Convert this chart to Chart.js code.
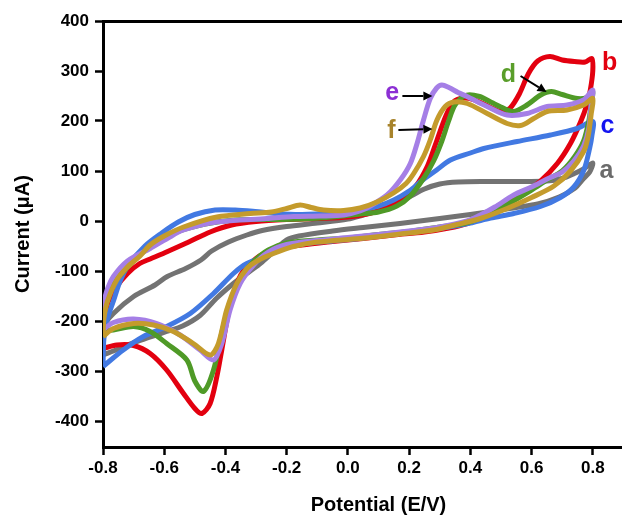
<!DOCTYPE html>
<html>
<head>
<meta charset="utf-8">
<script src="https://cdn.jsdelivr.net/npm/chart.js@4.4.1/dist/chart.umd.min.js"></script>
<style>
  html, body { margin: 0; padding: 0; background: #fff; overflow: hidden; }
  /* the figure is cropped on the right, like the original */
  #wrap { width: 654px; height: 517px; }
</style>
</head>
<body>
<div id="wrap"><canvas id="chart"></canvas></div>
<script>
// tick values
const xTicks = [-0.8, -0.6, -0.4, -0.2, 0.0, 0.2, 0.4, 0.6, 0.8];
const yTicks = [-400, -300, -200, -100, 0, 100, 200, 300, 400];

// curve a (grey): forward scan then reverse scan
const aE = [-0.8, -0.797, -0.766, -0.7, -0.63, -0.59, -0.53, -0.48, -0.445, -0.39, -0.33, -0.28, -0.2, -0.1, 0.0, 0.05, 0.1, 0.15, 0.2, 0.25, 0.3, 0.36, 0.45, 0.55, 0.65, 0.7, 0.74, 0.77, 0.8,
            0.79, 0.77, 0.74, 0.69, 0.62, 0.55, 0.48, 0.4, 0.3, 0.17, 0.05, -0.05, -0.16, -0.2, -0.24, -0.28, -0.33, -0.374, -0.43, -0.483, -0.54, -0.592, -0.65, -0.7, -0.75, -0.8];
const aI = [-268, -211, -185, -151, -128, -111, -95, -78, -60, -42, -28, -19, -11, -4, 4, 12, 21, 33, 48, 64, 74, 78, 79, 79, 80, 85, 95, 104, 116,
            98, 85, 65, 48, 34, 27, 20, 13, 5, -5, -13, -20, -30, -38, -60, -82, -105, -125, -155, -189, -210, -221, -233, -243, -256, -268];

// curve b (red)
const bE = [-0.8, -0.797, -0.785, -0.76, -0.72, -0.68, -0.646, -0.6, -0.52, -0.45, -0.38, -0.3, -0.2, -0.1, 0.0, 0.07, 0.13, 0.18, 0.22, 0.26, 0.29, 0.32, 0.345, 0.375, 0.41, 0.46, 0.5, 0.53, 0.56, 0.59, 0.62, 0.66, 0.7, 0.74, 0.775, 0.797,
            0.8, 0.792, 0.782, 0.76, 0.727, 0.684, 0.629, 0.564, 0.5, 0.44, 0.39, 0.33, 0.25, 0.15, 0.05, -0.05, -0.15, -0.243, -0.3, -0.35, -0.385, -0.412, -0.428, -0.45, -0.477, -0.5, -0.537, -0.592, -0.646, -0.7, -0.755, -0.8];
const bI = [-255, -205, -165, -135, -105, -85, -76, -64, -42, -22, -8, -1, 3, 5, 8, 15, 27, 45, 68, 110, 160, 210, 238, 246, 243, 229, 219, 226, 254, 295, 320, 329, 322, 319, 318, 325,
            300, 262, 235, 198, 155, 115, 80, 50, 28, 8, -5, -14, -22, -28, -35, -41, -48, -58, -75, -108, -170, -258, -311, -365, -385, -375, -345, -298, -265, -249, -248, -255];

// curve c (blue)
const cE = [-0.8, -0.797, -0.785, -0.766, -0.744, -0.717, -0.663, -0.608, -0.554, -0.5, -0.434, -0.368, -0.303, -0.238, -0.15, -0.05, 0.04, 0.1, 0.15, 0.2, 0.24, 0.29, 0.335, 0.4, 0.444, 0.553, 0.662, 0.749, 0.8,
            0.797, 0.79, 0.771, 0.738, 0.694, 0.629, 0.542, 0.466, 0.4, 0.33, 0.25, 0.15, 0.05, -0.05, -0.15, -0.22, -0.26, -0.33, -0.374, -0.439, -0.515, -0.592, -0.668, -0.734, -0.8];
const cI = [-291, -235, -195, -160, -120, -88, -50, -24, -2, 13, 22, 22, 19, 15, 13, 16, 22, 30, 42, 60, 80, 102, 122, 136, 145, 159, 172, 185, 199,
            170, 146, 102, 68, 47, 29, 15, 6, -4, -12, -19, -26, -34, -40, -46, -56, -68, -85, -105, -145, -185, -211, -231, -258, -291];

// curve d (green)
const dE = [-0.8, -0.797, -0.785, -0.76, -0.739, -0.685, -0.63, -0.554, -0.466, -0.368, -0.24, -0.15, -0.05, 0.04, 0.1, 0.16, 0.204, 0.247, 0.28, 0.307, 0.329, 0.351, 0.389, 0.43, 0.47, 0.5, 0.54, 0.585, 0.63, 0.665, 0.7, 0.75, 0.78, 0.8,
            0.795, 0.787, 0.77, 0.74, 0.7, 0.651, 0.6, 0.54, 0.48, 0.43, 0.38, 0.3, 0.2, 0.1, 0.0, -0.1, -0.2, -0.26, -0.308, -0.341, -0.374, -0.407, -0.439, -0.472, -0.5, -0.526, -0.592, -0.646, -0.7, -0.766, -0.8];
const dI = [-218, -180, -145, -118, -105, -71, -45, -21, -6, 2, 3, 4, 8, 14, 18, 30, 50, 85, 120, 160, 200, 233, 252, 249, 237, 228, 219, 232, 252, 259, 253, 245, 247, 258,
            235, 200, 160, 128, 100, 82, 62, 40, 20, 5, -5, -12, -21, -27, -34, -38, -44, -58, -81, -105, -145, -211, -298, -341, -320, -278, -245, -221, -211, -218, -218];

// curve e (purple)
const eE = [-0.8, -0.797, -0.785, -0.766, -0.72, -0.646, -0.59, -0.537, -0.428, -0.265, -0.178, -0.09, -0.014, 0.04, 0.073, 0.128, 0.171, 0.204, 0.226, 0.247, 0.269, 0.29, 0.307, 0.33, 0.36, 0.389, 0.455, 0.52, 0.585, 0.651, 0.716, 0.77, 0.8,
            0.795, 0.787, 0.77, 0.738, 0.7, 0.651, 0.6, 0.542, 0.48, 0.433, 0.389, 0.3, 0.2, 0.1, 0.0, -0.1, -0.2, -0.26, -0.308, -0.352, -0.385, -0.412, -0.439, -0.483, -0.548, -0.624, -0.7, -0.766, -0.8];
const eI = [-218, -165, -135, -111, -80, -55, -35, -18, -2, 5, 9, 10, 12, 20, 30, 52, 82, 115, 155, 202, 245, 266, 272, 267, 257, 249, 229, 212, 215, 229, 232, 242, 262,
            235, 185, 150, 120, 98, 84, 68, 52, 28, 12, 0, -12, -20, -27, -33, -39, -47, -62, -88, -125, -178, -245, -278, -258, -228, -205, -196, -203, -218];

// curve f (gold)
const fE = [-0.8, -0.797, -0.785, -0.755, -0.72, -0.679, -0.646, -0.6, -0.537, -0.428, -0.319, -0.25, -0.2, -0.156, -0.12, -0.08, -0.014, 0.04, 0.095, 0.149, 0.19, 0.215, 0.247, 0.269, 0.291, 0.318, 0.346, 0.39, 0.455, 0.52, 0.564, 0.607, 0.651, 0.716, 0.77, 0.8,
            0.795, 0.785, 0.771, 0.727, 0.673, 0.6, 0.52, 0.433, 0.35, 0.28, 0.171, 0.04, -0.1, -0.178, -0.243, -0.297, -0.33, -0.363, -0.396, -0.423, -0.45, -0.505, -0.57, -0.635, -0.7, -0.766, -0.8];
const fI = [-231, -195, -160, -118, -92, -70, -48, -30, -12, 8, 15, 18, 25, 32, 27, 22, 21, 26, 38, 56, 75, 95, 129, 162, 202, 229, 238, 235, 215, 195, 191, 205, 219, 222, 232, 245,
            215, 170, 140, 100, 70, 47, 25, 5, -8, -18, -26, -35, -42, -51, -65, -80, -95, -125, -178, -245, -268, -245, -221, -208, -205, -215, -231];

const curves = [
  { name: 'a', E: aE, I: aI, color: '#737373' },
  { name: 'b', E: bE, I: bI, color: '#e3000f' },
  { name: 'c', E: cE, I: cI, color: '#4279e2' },
  { name: 'd', E: dE, I: dI, color: '#4f9a27' },
  { name: 'e', E: eE, I: eI, color: '#a57fe6' },
  { name: 'f', E: fE, I: fI, color: '#c49b2c' }
];

// curve letters (baseline position in data units) and pointer arrows
const tags = [
  { text: 'a', color: '#6b6b6b', x: 0.845, y: 86 },
  { text: 'b', color: '#e3000f', x: 0.855, y: 302 },
  { text: 'c', color: '#1414f0', x: 0.848, y: 176 },
  { text: 'd', color: '#5a9e2a', x: 0.524, y: 278 },
  { text: 'e', color: '#8c2fd4', x: 0.145, y: 242 },
  { text: 'f', color: '#a8842c', x: 0.142, y: 166 }
];
const arrows = [
  { x1: 0.178, y1: 250, x2: 0.276, y2: 250 },
  { x1: 0.165, y1: 182, x2: 0.276, y2: 184 },
  { x1: 0.564, y1: 290, x2: 0.649, y2: 258 }
];

const FONT = "'Liberation Sans', Arial, sans-serif";
Chart.defaults.font.family = FONT;
Chart.defaults.color = '#000';

const tagPlugin = {
  id: 'tags',
  afterDatasetsDraw(chart) {
    const ctx = chart.ctx;
    const xs = chart.scales.x, ys = chart.scales.y;
    ctx.save();
    ctx.strokeStyle = '#000';
    ctx.fillStyle = '#000';
    ctx.lineWidth = 2;
    arrows.forEach(a => {
      const x1 = xs.getPixelForValue(a.x1), y1 = ys.getPixelForValue(a.y1);
      const x2 = xs.getPixelForValue(a.x2), y2 = ys.getPixelForValue(a.y2);
      const ang = Math.atan2(y2 - y1, x2 - x1);
      const hl = 9, hw = 4.5;
      const bx = x2 - hl * Math.cos(ang), by = y2 - hl * Math.sin(ang);
      ctx.beginPath();
      ctx.moveTo(x1, y1);
      ctx.lineTo(bx, by);
      ctx.stroke();
      ctx.beginPath();
      ctx.moveTo(x2, y2);
      ctx.lineTo(bx + hw * Math.sin(ang), by - hw * Math.cos(ang));
      ctx.lineTo(bx - hw * Math.sin(ang), by + hw * Math.cos(ang));
      ctx.closePath();
      ctx.fill();
    });
    ctx.font = 'bold 25px ' + FONT;
    ctx.textAlign = 'center';
    ctx.textBaseline = 'alphabetic';
    tags.forEach(t => {
      ctx.fillStyle = t.color;
      ctx.fillText(t.text, xs.getPixelForValue(t.x), ys.getPixelForValue(t.y));
    });
    ctx.restore();
  }
};

const tickGrid = {
  display: true,
  drawOnChartArea: false,
  drawTicks: true,
  tickLength: 8,
  tickWidth: 2.5,
  tickColor: '#000'
};
const axisBorder = { display: true, width: 3, color: '#000' };

new Chart(document.getElementById('chart').getContext('2d'), {
  type: 'scatter',
  data: {
    datasets: curves.map((c, k) => ({
      label: c.name,
      data: c.E.map((v, i) => ({ x: v, y: c.I[i] })),
      showLine: true,
      borderColor: c.color,
      backgroundColor: c.color,
      borderWidth: 5,
      pointRadius: 0,
      tension: 0.3,
      order: curves.length - k
    }))
  },
  options: {
    responsive: true,
    maintainAspectRatio: false,
    animation: false,
    layout: { padding: { top: 21, right: 0, bottom: 0, left: 0 } },
    plugins: { legend: { display: false }, tooltip: { enabled: false } },
    scales: {
      x: {
        type: 'linear',
        position: 'bottom',
        min: -0.8,
        max: 1.0,
        afterBuildTicks: s => { s.ticks = xTicks.map(v => ({ value: v })); },
        afterFit: s => { s.height = 70; },
        ticks: {
          callback: v => v.toFixed(1),
          font: { size: 17, weight: 'bold' },
          color: '#000',
          padding: 3,
          maxRotation: 0
        },
        grid: tickGrid,
        border: axisBorder,
        title: {
          display: true,
          text: 'Potential (E/V)',
          font: { size: 20, weight: 'bold' },
          color: '#000',
          padding: { top: 0, bottom: 0 }
        }
      },
      xTop: {
        type: 'linear',
        position: 'top',
        min: -0.8,
        max: 1.0,
        afterFit: s => { s.height = 0; },
        ticks: { display: false },
        grid: { display: false },
        border: axisBorder
      },
      y: {
        type: 'linear',
        min: -452,
        max: 400,
        afterBuildTicks: s => { s.ticks = yTicks.map(v => ({ value: v })); },
        afterFit: s => { s.width = 103; },
        ticks: {
          callback: v => String(v),
          font: { size: 17, weight: 'bold' },
          color: '#000',
          padding: 6
        },
        grid: tickGrid,
        border: axisBorder,
        title: {
          display: true,
          text: 'Current (μA)',
          font: { size: 20, weight: 'bold' },
          color: '#000',
          padding: { top: 11, bottom: 0 }
        }
      }
    }
  },
  plugins: [tagPlugin]
});
</script>
</body>
</html>
